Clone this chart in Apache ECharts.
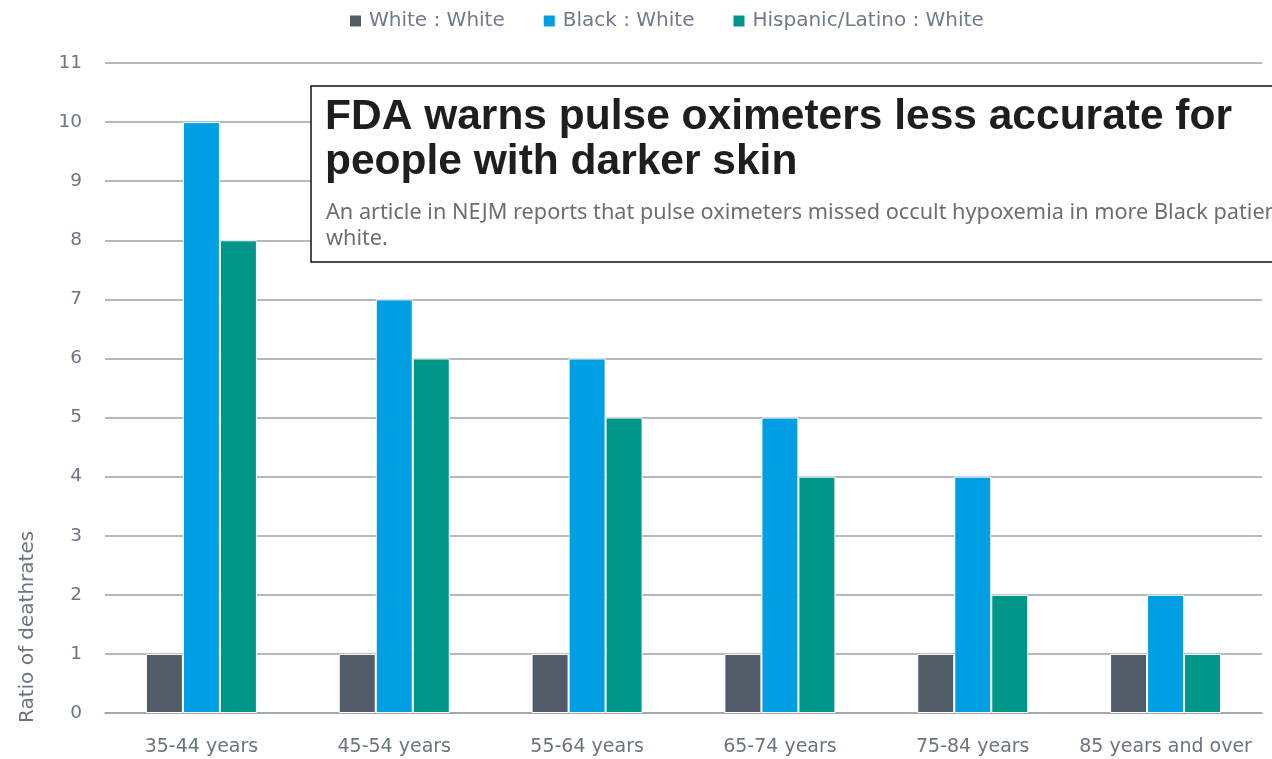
<!DOCTYPE html>
<html><head><meta charset="utf-8">
<script src="https://cdn.jsdelivr.net/npm/echarts@6/dist/echarts.min.js"></script>
<style>html,body{margin:0;padding:0;background:#fff}#c{width:1272px;height:759px}</style>
</head><body><div id="c"></div>
<script>
const categories = ['35-44 years','45-54 years','55-64 years','65-74 years','75-84 years','85 years and over'];
const whiteWhite = [1,1,1,1,1,1];
const blackWhite = [10,7,6,5,4,2];
const hispanicWhite = [8,6,5,4,2,1];
const seriesNames = ['White : White','Black : White','Hispanic/Latino : White'];
const colors = ['#525c68','#009fe3','#00968a'];
const yAxisTitle = 'Ratio of deathrates';
const boxTitle = 'FDA warns pulse oximeters less accurate for\npeople with darker skin';
const boxSub = 'An article in NEJM reports that pulse oximeters missed occult hypoxemia in more Black patients than\nwhite.';

const font = '"DejaVu Sans", sans-serif';
const txt = '#6b7480';
const chart = echarts.init(document.getElementById('c'));
const mk = (name, data, color) => ({
  name, type:'bar', data, barWidth:37, barGap:'0%',
  itemStyle:{color, borderColor:'#fff', borderWidth:1},
  animation:false
});
chart.setOption({
  animation:false,
  color:colors,
  legend:{top:6,left:345,itemWidth:11,itemHeight:11,itemGap:39,icon:'rect',
    itemStyle:{borderWidth:0},
    textStyle:{fontFamily:font,fontSize:20,color:'#707a88',padding:[0,0,0,3]}},
  grid:{left:105,right:10,top:63,bottom:46},
  xAxis:{type:'category',data:categories,
    axisLine:{lineStyle:{color:'#9aa2ab',width:1.5}},axisTick:{show:false},
    axisLabel:{interval:0,fontFamily:font,fontSize:19,color:txt,margin:25}},
  yAxis:{type:'value',min:0,max:11,interval:1,
    axisLine:{show:false},axisTick:{show:false},
    splitLine:{lineStyle:{color:'#9aa2ab',width:1.5}},
    axisLabel:{fontFamily:font,fontSize:18.5,color:txt,margin:23}},
  series:[mk(seriesNames[0],whiteWhite,colors[0]),mk(seriesNames[1],blackWhite,colors[1]),mk(seriesNames[2],hispanicWhite,colors[2])],
  graphic:[
    {type:'text',rotation:Math.PI/2,originX:0,originY:0,x:18,y:723,
      style:{text:yAxisTitle,fontFamily:font,fontSize:20,fill:txt}},
    {type:'rect',shape:{x:311,y:86,width:1000,height:176},z:100,
      style:{fill:'#fff',stroke:'#111',lineWidth:1.5}},
    {type:'text',x:325,y:95,z:101,
      style:{text:boxTitle,fontFamily:'"Liberation Sans", Arial, sans-serif',fontWeight:'bold',fontSize:42.5,lineHeight:45,fill:'#1e1e1e'}},
    {type:'text',x:326,y:200,z:101,
      style:{text:boxSub,fontFamily:'"Noto Sans", sans-serif',fontSize:21.7,lineHeight:26,fill:'#6e6e6e'}}
  ]
});
</script></body></html>
